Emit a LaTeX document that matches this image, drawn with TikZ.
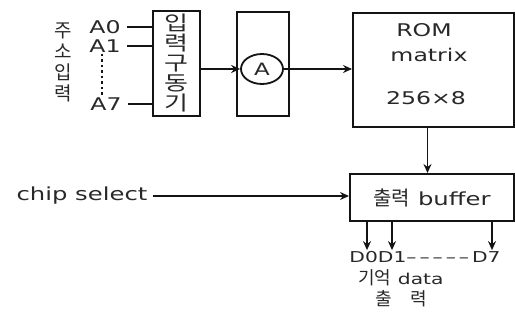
\documentclass[tikz,border=0pt]{standalone}
\usepackage{fontspec}
\setmainfont[FakeStretch=1.35]{DejaVu Sans}
\newfontfamily\kr{Noto Sans CJK KR}
\newfontfamily\krw[FakeStretch=1.3]{Noto Sans CJK KR}
\usepackage{xcolor}
\usetikzlibrary{positioning,arrows.meta,shapes.geometric}
\definecolor{romink}{RGB}{40,40,40}
\definecolor{romline}{RGB}{20,20,20}
\tikzset{
  blk/.style={draw=romline, line width=2pt, inner sep=0pt},
  lbl/.style={text=romink, inner sep=1pt, font=\fontsize{17.5}{20}\selectfont},
  small/.style={lbl, font=\fontsize{15}{18}\selectfont},
  wire/.style={line width=1.8pt, color=romline},
  flow/.style={wire, -{Stealth[length=9pt,width=8pt,inset=3pt]}},
}
\newcommand\dgap{\kern3pt}

\begin{document}
\begin{tikzpicture}[x=1pt,y=-1pt]
\useasboundingbox (0,0) rectangle (515,324);
% address inputs
\node[lbl, align=center, font={\kr\fontsize{19}{21}\selectfont}] (addr) at (63,62) {주\\소\\입\\력};
\node[lbl] (a0) at (105,27) {A0};
\node[lbl] (a1) at (105,46) {A1};
\node[lbl] (a7) at (106,104) {A7};
\draw[wire, dash pattern=on 2.5pt off 3pt] (a1.south -| 102,0) -- (a7.north -| 102,0);
% input driver
\node[blk, minimum width=47pt, minimum height=105pt, align=center, text=romink,
      font={\krw\fontsize{20}{20}\selectfont}] (drv) at (176.5,63.5) {입\\력\\구\\동\\기};
\foreach \a in {a0,a1,a7}
  \draw[wire] ([xshift=5pt]\a.east) -- (\a -| drv.west);
% address buffer
\node[blk, minimum width=52pt, minimum height=104pt] (abuf) at (263,64) {};
\node[draw=romline, line width=1.8pt, ellipse, minimum width=42pt, minimum height=30pt,
      inner sep=0pt, text=romink, font=\fontsize{17}{18}\selectfont] (circ) at (262,69) {A};
\draw[flow] (drv.east |- circ) -- (circ.west);
% ROM matrix
\node[blk, minimum width=161pt, minimum height=114pt] (rom) at (433.5,70) {};
\draw[flow] (circ.east) -- (rom.west |- circ);
\node[lbl] (romt) at (424,30) {ROM};
\node[lbl] (romm) at (429,55) {matrix};
\node[lbl] (roms) at (426,98) {256×8};
% output buffer
\node[blk, minimum width=164pt, minimum height=47pt, text=romink,
      font=\fontsize{18}{20}\selectfont] (buf) at (432,197.5) {{\kr\fontsize{20}{20}\selectfont 출력}\ buffer};
\draw[flow] ([xshift=-6pt]rom.south) -- ([xshift=-6pt]rom.south |- buf.north);
\node[lbl, font=\fontsize{18}{20}\selectfont] (cs) at (82,196) {chip select};
\draw[flow] ([xshift=4pt]cs.east) -- (cs -| buf.west);
% data outputs
\node[small] (dout) at (425,257) {D0D1–\dgap–\dgap–\dgap–\dgap–\dgap D7};
\node[small] (dlbl) at (401,278) {{\kr\fontsize{18}{18}\selectfont 기억} data};
\node[small, font={\kr\fontsize{18}{18}\selectfont}] (dout2) at (401,299) {출\quad 력};
\foreach \x in {367,392,492}
  \draw[flow] (buf.south -| \x,0) -- (dout.north -| \x,0);
\end{tikzpicture}
\end{document}
